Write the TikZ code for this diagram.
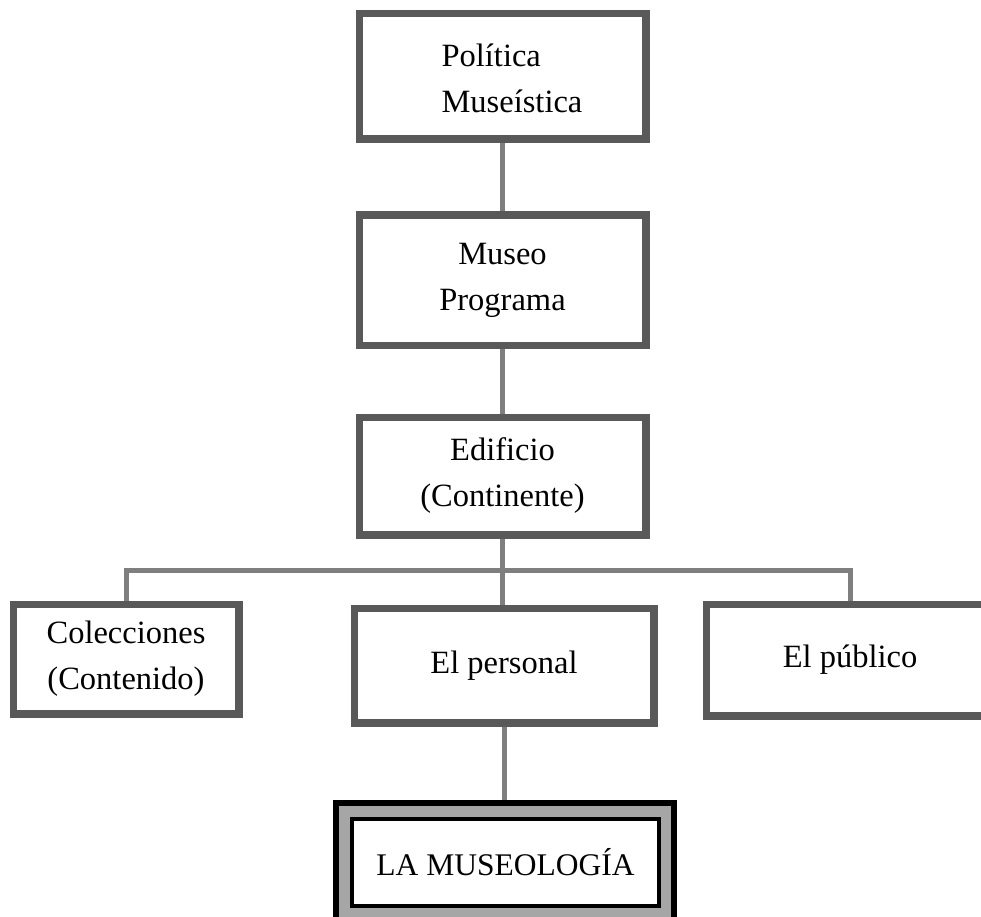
\documentclass[tikz,border=0pt]{standalone}
\usepackage{fontspec}
\setmainfont{Liberation Serif}
\definecolor{boxgray}{HTML}{595959}
\definecolor{linegray}{HTML}{7F7F7F}
\definecolor{fillgray}{HTML}{A6A6A6}
\begin{document}
\begin{tikzpicture}[x=1pt,y=-1pt,
  box/.style={draw=boxgray, line width=5pt, fill=white, rectangle, inner sep=0pt,
    font=\fontsize{32.5}{46}\selectfont, align=center},
  txt/.style={inner sep=0pt, font=\fontsize{32.5}{46}\selectfont},
  conn/.style={draw=linegray, line width=5pt, line join=miter},
  outerb/.style={draw=black, line width=4pt, fill=fillgray, rectangle, inner sep=0pt},
  innerb/.style={draw=black, line width=4pt, fill=white, rectangle, inner sep=0pt,
    font=\fontsize{31.5}{46}\selectfont}]
\useasboundingbox (0,0) rectangle (981,916);
\fill[white] (0,0) rectangle (981,916);

\coordinate (busL) at (126,570);
\coordinate (busM) at (502.5,570);
\coordinate (busR) at (850,570);

\node[box, minimum width=284pt, minimum height=123pt] (pol) at (502.5,76) {};
\node[txt, align=left] (polt) at (512,78) {Política\\Museística};
\node[box, minimum width=284pt, minimum height=128pt] (mus) at (502.5,280) {Museo\\Programa};
\node[box, minimum width=284pt, minimum height=115pt] (edi) at (502.5,476) {Edificio\\(Continente)};
\node[box, minimum width=223pt, minimum height=107pt] (col) at (126,659) {Colecciones\\(Contenido)};
\node[box, minimum width=297pt, minimum height=112pt] (per) at (504,665.5) {El personal};
\node[box, minimum width=285pt, minimum height=109pt] (pub) at (850,660) {El público};
\node[outerb, minimum width=336pt, minimum height=117pt] (lao) at (505,862.5) {};
\node[innerb, minimum width=307pt, minimum height=87pt] (lai) at (505.5,862.5) {LA MUSEOLOGÍA};

\draw[conn] (pol.south) -- (mus.north);
\draw[conn] (mus.south) -- (edi.north);
\draw[conn] (edi.south) -- (busM);
\draw[conn] (col.north) -- (busL) -- (busR) -- (pub.north);
\draw[conn] (busM) -- (busM |- per.north);
\draw[conn] (per.south) -- (per.south |- lao.north);

% redraw box borders over connector ends
\foreach \n in {pol,mus,edi,col,per,pub}{
  \draw[boxgray, line width=5pt] (\n.south west) rectangle (\n.north east);
}
\draw[black, line width=4pt] (lao.south west) rectangle (lao.north east);
\end{tikzpicture}
\end{document}
